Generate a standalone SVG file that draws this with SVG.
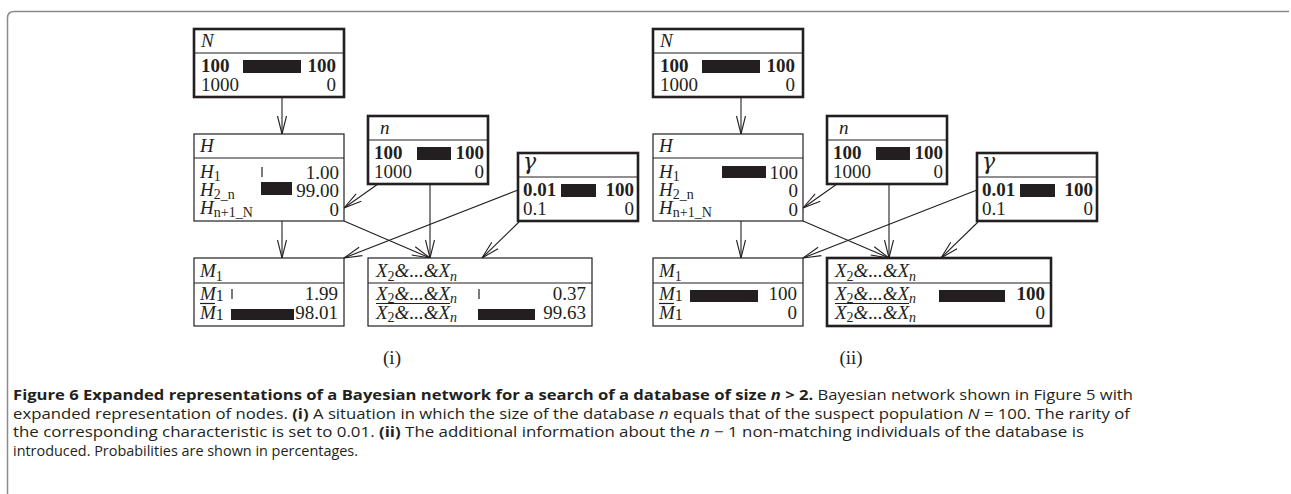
<svg xmlns="http://www.w3.org/2000/svg" width="1291" height="494" viewBox="0 0 1291 494">
<defs>
<marker id="ah" markerUnits="userSpaceOnUse" markerWidth="22" markerHeight="12" viewBox="-20 -6 22 12" refX="0" refY="0" orient="auto"><path d="M-18,-4.5 L0,0 L-18,4.5" fill="none" stroke="#231f20" stroke-width="1.1"/></marker>
</defs>
<style>
.box{fill:#fff;stroke:#231f20}
.tk{stroke-width:2.6}
.tn{stroke-width:1.2}
.div{stroke:#231f20;stroke-width:1.2}
.ln{stroke:#231f20;stroke-width:1.2}
.t{font-family:"Liberation Serif","Times New Roman",serif;font-size:19px;fill:#231f20}
.i{font-style:italic}
.b{font-weight:bold}
.e{text-anchor:end}
.m{text-anchor:middle}
.g{font-family:"DejaVu Serif","Liberation Serif",serif;font-size:22px;font-style:italic;fill:#231f20}
.bar{fill:#231f20}
.cap{font-family:"Open Sans","Noto Sans",sans-serif;font-size:14.5px;fill:#231f20}
.edge{stroke:#231f20;stroke-width:1.1;fill:none;marker-end:url(#ah)}
.frame{fill:none;stroke:#8a8a8a;stroke-width:1.5}
</style>
<rect width="1291" height="494" fill="#fff"/>
<path class="frame" d="M7.5,494 V18 Q7.5,11.5 14,11.5 H1289"/>

<g id="connectors">
<path class="edge" d="M282,97 V134"/>
<path class="edge" d="M282,221 V258"/>
<path class="edge" d="M378,184 L344,208"/>
<path class="edge" d="M430,184 V258"/>
<path class="edge" d="M344,221 L430,258"/>
<path class="edge" d="M518,190 L344,258"/>
<path class="edge" d="M519,222 L482,258"/>
<path class="edge" d="M741,97 V134"/>
<path class="edge" d="M741,221 V258"/>
<path class="edge" d="M837,184 L803,208"/>
<path class="edge" d="M889,184 V258"/>
<path class="edge" d="M803,221 L889,258"/>
<path class="edge" d="M977,190 L803,258"/>
<path class="edge" d="M978,222 L941,258"/>
</g>

<!-- (i) -->
<g id="N-i">
<rect class="box tk" x="194" y="29" width="150" height="68"/>
<line class="div" x1="194" y1="53" x2="344" y2="53"/>
<text class="t i" x="201" y="47">N</text>
<text class="t b" x="201" y="72">100</text>
<rect class="bar" x="243" y="60" width="58" height="13"/>
<text class="t b e" x="336" y="72">100</text>
<text class="t" x="201" y="91">1000</text>
<text class="t e" x="336" y="91">0</text>
</g>
<g id="n-i">
<rect class="box tk" x="368" y="116" width="120" height="68"/>
<line class="div" x1="368" y1="140" x2="488" y2="140"/>
<text class="t i" x="380" y="134">n</text>
<text class="t b" x="374" y="159">100</text>
<rect class="bar" x="417" y="147" width="34" height="13"/>
<text class="t b e" x="484" y="159">100</text>
<text class="t" x="374" y="178">1000</text>
<text class="t e" x="484" y="178">0</text>
</g>
<g id="H-i">
<rect class="box tn" x="194" y="134" width="150" height="87"/>
<line class="div" x1="194" y1="158" x2="344" y2="158"/>
<text class="t i" x="200" y="152">H</text>
<text class="t" x="200" y="178"><tspan class="i">H</tspan><tspan font-size="14" dy="3">1</tspan></text>
<line class="ln" x1="262" y1="167" x2="262" y2="177"/>
<text class="t e" x="339" y="179">1.00</text>
<text class="t" x="200" y="196"><tspan class="i">H</tspan><tspan font-size="14" dy="3">2_n</tspan></text>
<rect class="bar" x="261" y="182" width="31" height="13"/>
<text class="t e" x="339" y="197">99.00</text>
<text class="t" x="200" y="214"><tspan class="i">H</tspan><tspan font-size="14" dy="3">n+1_N</tspan></text>
<text class="t e" x="339" y="216">0</text>
</g>
<g id="gamma-i">
<rect class="box tk" x="518" y="153" width="120" height="68"/>
<line class="div" x1="518" y1="177" x2="638" y2="177"/>
<text class="g" x="523" y="169">γ</text>
<text class="t b" x="523" y="196">0.01</text>
<rect class="bar" x="561" y="184" width="35" height="13"/>
<text class="t b e" x="634" y="196">100</text>
<text class="t" x="523" y="215">0.1</text>
<text class="t e" x="634" y="215">0</text>
</g>
<g id="M1-i">
<rect class="box tn" x="194" y="258" width="150" height="68"/>
<line class="div" x1="194" y1="283" x2="344" y2="283"/>
<text class="t" x="200" y="277"><tspan class="i">M</tspan><tspan font-size="14" dy="4">1</tspan></text>
<text class="t" x="200" y="300"><tspan class="i">M</tspan><tspan font-size="16" dy="1">1</tspan></text>
<line class="ln" x1="232" y1="289" x2="232" y2="299"/>
<text class="t e" x="338" y="300">1.99</text>
<line class="ln" x1="200" y1="303.5" x2="215" y2="303.5"/>
<text class="t" x="200" y="319"><tspan class="i">M</tspan><tspan font-size="16" dy="1">1</tspan></text>
<rect class="bar" x="231" y="309" width="63" height="11"/>
<text class="t e" x="338" y="319">98.01</text>
</g>
<g id="X-i">
<rect class="box tn" x="368" y="258" width="224" height="68"/>
<line class="div" x1="368" y1="283" x2="592" y2="283"/>
<text class="t" x="376" y="277"><tspan class="i">X</tspan><tspan font-size="14" dy="4">2</tspan><tspan class="i" dy="-4">&amp;...&amp;X</tspan><tspan class="i" font-size="14" dy="4">n</tspan></text>
<text class="t" x="376" y="300"><tspan class="i">X</tspan><tspan font-size="14" dy="3">2</tspan><tspan class="i" dy="-3">&amp;...&amp;X</tspan><tspan class="i" font-size="14" dy="3">n</tspan></text>
<line class="ln" x1="479" y1="289" x2="479" y2="299"/>
<text class="t e" x="586" y="300">0.37</text>
<line class="ln" x1="376" y1="303.5" x2="450" y2="303.5"/>
<text class="t" x="376" y="319"><tspan class="i">X</tspan><tspan font-size="14" dy="3">2</tspan><tspan class="i" dy="-3">&amp;...&amp;X</tspan><tspan class="i" font-size="14" dy="3">n</tspan></text>
<rect class="bar" x="478" y="309" width="57" height="11"/>
<text class="t e" x="586" y="319">99.63</text>
</g>
<text class="t m" x="392" y="364">(i)</text>

<!-- (ii) -->
<g id="N-ii" transform="translate(459,0)">
<rect class="box tk" x="194" y="29" width="150" height="68"/>
<line class="div" x1="194" y1="53" x2="344" y2="53"/>
<text class="t i" x="201" y="47">N</text>
<text class="t b" x="201" y="72">100</text>
<rect class="bar" x="243" y="60" width="58" height="13"/>
<text class="t b e" x="336" y="72">100</text>
<text class="t" x="201" y="91">1000</text>
<text class="t e" x="336" y="91">0</text>
</g>
<g id="n-ii" transform="translate(459,0)">
<rect class="box tk" x="368" y="116" width="120" height="68"/>
<line class="div" x1="368" y1="140" x2="488" y2="140"/>
<text class="t i" x="380" y="134">n</text>
<text class="t b" x="374" y="159">100</text>
<rect class="bar" x="417" y="147" width="34" height="13"/>
<text class="t b e" x="484" y="159">100</text>
<text class="t" x="374" y="178">1000</text>
<text class="t e" x="484" y="178">0</text>
</g>
<g id="H-ii" transform="translate(459,0)">
<rect class="box tn" x="194" y="134" width="150" height="87"/>
<line class="div" x1="194" y1="158" x2="344" y2="158"/>
<text class="t i" x="200" y="152">H</text>
<text class="t" x="200" y="178"><tspan class="i">H</tspan><tspan font-size="14" dy="3">1</tspan></text>
<rect class="bar" x="263" y="166" width="44" height="12"/>
<text class="t e" x="339" y="179">100</text>
<text class="t" x="200" y="196"><tspan class="i">H</tspan><tspan font-size="14" dy="3">2_n</tspan></text>
<text class="t e" x="339" y="197">0</text>
<text class="t" x="200" y="214"><tspan class="i">H</tspan><tspan font-size="14" dy="3">n+1_N</tspan></text>
<text class="t e" x="339" y="216">0</text>
</g>
<g id="gamma-ii" transform="translate(459,0)">
<rect class="box tk" x="518" y="153" width="120" height="68"/>
<line class="div" x1="518" y1="177" x2="638" y2="177"/>
<text class="g" x="523" y="169">γ</text>
<text class="t b" x="523" y="196">0.01</text>
<rect class="bar" x="561" y="184" width="35" height="13"/>
<text class="t b e" x="634" y="196">100</text>
<text class="t" x="523" y="215">0.1</text>
<text class="t e" x="634" y="215">0</text>
</g>
<g id="M1-ii" transform="translate(459,0)">
<rect class="box tn" x="194" y="258" width="150" height="68"/>
<line class="div" x1="194" y1="283" x2="344" y2="283"/>
<text class="t" x="200" y="277"><tspan class="i">M</tspan><tspan font-size="14" dy="4">1</tspan></text>
<text class="t" x="200" y="300"><tspan class="i">M</tspan><tspan font-size="16" dy="1">1</tspan></text>
<rect class="bar" x="231" y="290" width="68" height="12"/>
<text class="t e" x="338" y="300">100</text>
<line class="ln" x1="200" y1="303.5" x2="215" y2="303.5"/>
<text class="t" x="200" y="319"><tspan class="i">M</tspan><tspan font-size="16" dy="1">1</tspan></text>
<text class="t e" x="338" y="319">0</text>
</g>
<g id="X-ii" transform="translate(459,0)">
<rect class="box tk" x="368" y="258" width="224" height="68"/>
<line class="div" x1="368" y1="283" x2="592" y2="283"/>
<text class="t" x="376" y="277"><tspan class="i">X</tspan><tspan font-size="14" dy="4">2</tspan><tspan class="i" dy="-4">&amp;...&amp;X</tspan><tspan class="i" font-size="14" dy="4">n</tspan></text>
<text class="t" x="376" y="300"><tspan class="i">X</tspan><tspan font-size="14" dy="3">2</tspan><tspan class="i" dy="-3">&amp;...&amp;X</tspan><tspan class="i" font-size="14" dy="3">n</tspan></text>
<rect class="bar" x="480" y="290" width="66" height="12"/>
<text class="t b e" x="586" y="300">100</text>
<line class="ln" x1="376" y1="303.5" x2="450" y2="303.5"/>
<text class="t" x="376" y="319"><tspan class="i">X</tspan><tspan font-size="14" dy="3">2</tspan><tspan class="i" dy="-3">&amp;...&amp;X</tspan><tspan class="i" font-size="14" dy="3">n</tspan></text>
<text class="t e" x="586" y="319">0</text>
</g>
<text class="t m" x="851" y="364">(ii)</text>

<text class="cap" x="13" y="400" textLength="1120" lengthAdjust="spacingAndGlyphs"><tspan font-weight="bold">Figure 6 Expanded representations of a Bayesian network for a search of a database of size <tspan font-style="italic">n</tspan> &gt; 2.</tspan> Bayesian network shown in Figure 5 with</text>
<text class="cap" x="13" y="419" textLength="1117" lengthAdjust="spacingAndGlyphs">expanded representation of nodes. <tspan font-weight="bold">(i)</tspan> A situation in which the size of the database <tspan font-style="italic">n</tspan> equals that of the suspect population <tspan font-style="italic">N</tspan> = 100. The rarity of</text>
<text class="cap" x="13" y="437" textLength="1071" lengthAdjust="spacingAndGlyphs">the corresponding characteristic is set to 0.01. <tspan font-weight="bold">(ii)</tspan> The additional information about the <tspan font-style="italic">n</tspan> − 1 non-matching individuals of the database is</text>
<text class="cap" x="13" y="456" textLength="345" lengthAdjust="spacingAndGlyphs">introduced. Probabilities are shown in percentages.</text>
</svg>
